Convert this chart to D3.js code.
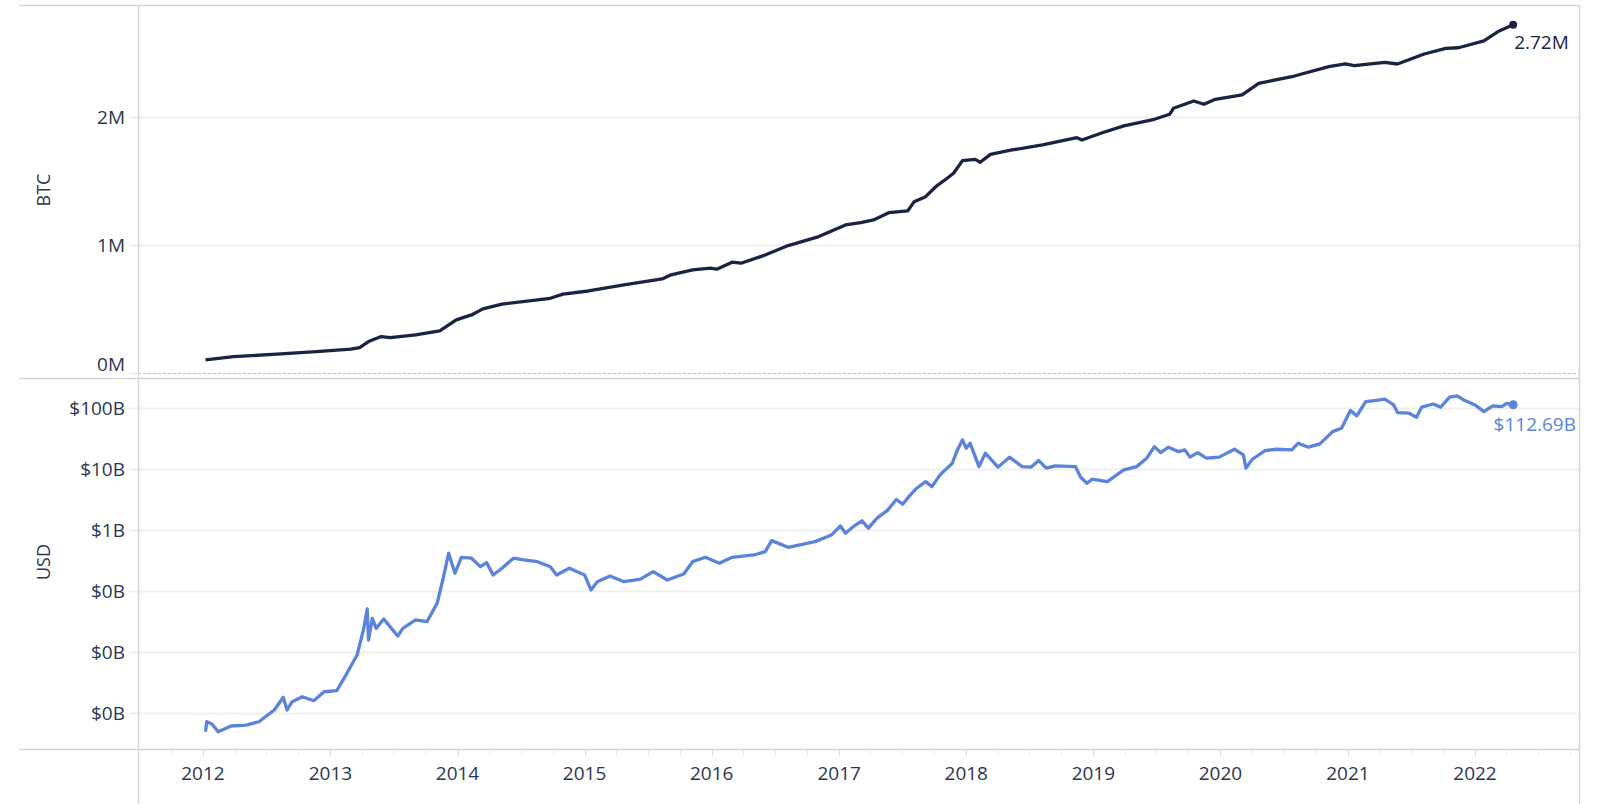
<!DOCTYPE html>
<html><head><meta charset="utf-8">
<script src="https://cdn.jsdelivr.net/npm/d3@7"></script>
<style>
html,body{margin:0;padding:0;background:#fff;}
svg{display:block;font-family:"Open Sans",sans-serif;}
</style></head>
<body>
<svg id="chart" width="1600" height="804"></svg>
<script>
// ---- data (decimal years) ----
const btcYears = [2012.02,2012.24,2012.58,2012.89,2013.16,2013.23,2013.30,2013.40,2013.47,2013.67,2013.86,2013.99,2014.11,2014.20,2014.35,2014.73,2014.83,2015.03,2015.31,2015.61,2015.68,2015.85,2015.99,2016.04,2016.16,2016.23,2016.40,2016.60,2016.84,2017.05,2017.17,2017.27,2017.39,2017.54,2017.59,2017.68,2017.76,2017.85,2017.90,2017.97,2018.07,2018.11,2018.19,2018.36,2018.60,2018.87,2018.91,2019.07,2019.24,2019.48,2019.60,2019.63,2019.79,2019.87,2019.96,2020.17,2020.30,2020.58,2020.85,2020.98,2021.05,2021.29,2021.39,2021.60,2021.77,2021.87,2022.07,2022.19,2022.30];
const btcMillions = [0.102,0.127,0.146,0.166,0.185,0.198,0.245,0.284,0.276,0.297,0.328,0.414,0.453,0.500,0.537,0.583,0.615,0.640,0.688,0.734,0.766,0.805,0.818,0.810,0.865,0.857,0.914,0.995,1.065,1.156,1.174,1.195,1.252,1.266,1.338,1.377,1.455,1.521,1.560,1.659,1.669,1.646,1.708,1.742,1.781,1.838,1.820,1.877,1.930,1.982,2.021,2.068,2.125,2.099,2.138,2.172,2.263,2.320,2.393,2.414,2.401,2.427,2.414,2.492,2.536,2.541,2.594,2.672,2.720];

const usdYears = [2012.02,2012.03,2012.07,2012.12,2012.22,2012.34,2012.44,2012.49,2012.56,2012.63,2012.66,2012.70,2012.78,2012.87,2012.95,2013.05,2013.13,2013.21,2013.26,2013.29,2013.30,2013.33,2013.36,2013.42,2013.48,2013.53,2013.57,2013.67,2013.76,2013.84,2013.89,2013.93,2013.98,2014.03,2014.11,2014.18,2014.23,2014.28,2014.35,2014.44,2014.52,2014.63,2014.73,2014.78,2014.88,2015.00,2015.05,2015.10,2015.20,2015.31,2015.44,2015.54,2015.65,2015.78,2015.85,2015.95,2016.06,2016.16,2016.33,2016.42,2016.47,2016.60,2016.81,2016.94,2017.01,2017.05,2017.11,2017.18,2017.23,2017.30,2017.38,2017.45,2017.50,2017.55,2017.61,2017.68,2017.73,2017.80,2017.85,2017.89,2017.93,2017.97,2018.00,2018.03,2018.10,2018.15,2018.25,2018.34,2018.44,2018.51,2018.57,2018.63,2018.70,2018.86,2018.90,2018.95,2018.99,2019.11,2019.24,2019.34,2019.42,2019.48,2019.53,2019.59,2019.67,2019.72,2019.76,2019.82,2019.89,2019.99,2020.11,2020.18,2020.20,2020.25,2020.35,2020.44,2020.56,2020.61,2020.69,2020.78,2020.88,2020.95,2021.02,2021.07,2021.14,2021.21,2021.29,2021.36,2021.39,2021.48,2021.54,2021.58,2021.67,2021.73,2021.80,2021.86,2021.92,2022.00,2022.07,2022.14,2022.21,2022.25,2022.30];
const usdBillions = [0.000493,0.000719,0.000661,0.000493,0.000612,0.000635,0.000719,0.000869,0.00112,0.00181,0.00112,0.00153,0.00185,0.00159,0.00223,0.00232,0.00447,0.00893,0.0230,0.0507,0.0157,0.0356,0.0244,0.0348,0.0244,0.0183,0.0244,0.0335,0.0314,0.0628,0.171,0.415,0.195,0.356,0.344,0.250,0.291,0.183,0.236,0.344,0.322,0.302,0.250,0.183,0.236,0.183,0.104,0.142,0.176,0.142,0.156,0.207,0.151,0.190,0.302,0.356,0.284,0.356,0.389,0.441,0.668,0.520,0.643,0.828,1.16,0.883,1.13,1.41,1.07,1.58,2.09,3.16,2.63,3.55,4.83,6.19,5.13,8.28,10.3,12.4,20.5,29.9,21.8,26.4,10.9,18.1,10.7,15.6,10.9,10.7,13.7,10.3,11.2,10.9,7.31,5.83,6.78,6.19,9.64,10.9,15.0,23.2,18.5,22.7,19.2,20.5,15.6,18.5,15.0,15.6,21.0,17.0,10.3,14.4,20.0,21.0,20.5,26.4,22.7,25.7,40.9,46.5,90.4,74.0,127,132,139,112,83.8,81.8,70.3,103,116,103,150,157,132,112,86.9,108,105,119,112.69];

const xTickYears = [2012,2013,2014,2015,2016,2017,2018,2019,2020,2021,2022];
const btcTicks = [0,1,2];
const btcTickLabels = ["0M","1M","2M"];
const usdTicks = [0.001,0.01,0.1,1,10,100];
const usdTickLabels = ["$0B","$0B","$0B","$1B","$10B","$100B"];
const btcEndLabel = "2.72M";
const usdEndLabel = "$112.69B";
const btcTitle = "BTC", usdTitle = "USD";

// ---- helpers ----
function yearToDate(v){const y=Math.floor(v),f=v-y;const a=Date.UTC(y,0,1),b=Date.UTC(y+1,0,1);return new Date(a+f*(b-a));}

const svg = d3.select("#chart");
const L=138, R=1579, topT=5, topB=378, botT=378, botB=749;
const navy="#1b2342", blue="#5b83dc", grid="#efefef", frame="#d6d6d6", txt="#2d3552";

const x = d3.scaleUtc().domain([yearToDate(2011.489), yearToDate(2022.826)]).range([L, 1580]);
const yTop = d3.scaleLinear().domain([-0.04, 2.875]).range([topB, topT]);
const yBot = d3.scaleLog().domain([Math.pow(10,-3.59), Math.pow(10,2.49)]).range([botB, botT]);

// gridlines + tick marks
const g = svg.append("g");
btcTicks.forEach((t,i)=>{
  const yy = Math.round(yTop(t))+0.5;
  if(t!==0) g.append("line").attr("x1",L).attr("x2",R).attr("y1",yy).attr("y2",yy).attr("stroke",grid).attr("stroke-width",2);
  g.append("line").attr("x1",129).attr("x2",L).attr("y1",yy).attr("y2",yy).attr("stroke",grid).attr("stroke-width",2);
  g.append("text").attr("x",125).attr("y",t===0?yy-9:yy).attr("dy","0.35em").attr("text-anchor","end")
   .attr("font-size",19).attr("fill",txt).text(btcTickLabels[i]);
});
// zero dashed line
g.append("line").attr("x1",L).attr("x2",R).attr("y1",Math.round(yTop(0))+0.5).attr("y2",Math.round(yTop(0))+0.5)
 .attr("stroke","#bdbdbd").attr("stroke-width",1.2).attr("stroke-dasharray","3,2");

usdTicks.forEach((t,i)=>{
  const yy = Math.round(yBot(t))+0.5;
  g.append("line").attr("x1",129).attr("x2",R).attr("y1",yy).attr("y2",yy).attr("stroke",grid).attr("stroke-width",2);
  g.append("text").attr("x",125).attr("y",yy).attr("dy","0.35em").attr("text-anchor","end")
   .attr("font-size",19).attr("fill",txt).text(usdTickLabels[i]);
});

// frame lines
const fr = svg.append("g").attr("stroke",frame).attr("stroke-width",1.5);
fr.append("line").attr("x1",19).attr("x2",1580).attr("y1",5.5).attr("y2",5.5);
fr.append("line").attr("x1",19).attr("x2",1580).attr("y1",378.5).attr("y2",378.5);
fr.append("line").attr("x1",19).attr("x2",1580).attr("y1",749.5).attr("y2",749.5);
fr.append("line").attr("x1",L+0.5).attr("x2",L+0.5).attr("y1",5).attr("y2",804);
fr.append("line").attr("x1",1579.5).attr("x2",1579.5).attr("y1",5).attr("y2",804);

// x axis ticks (quarterly) and labels
const qTicks = d3.utcMonth.every(3).range(yearToDate(2011.5), yearToDate(2022.83));
svg.append("g").selectAll("line").data(qTicks).join("line")
  .attr("x1",d=>Math.round(x(d))+0.5).attr("x2",d=>Math.round(x(d))+0.5)
  .attr("y1",750).attr("y2",d=>d.getUTCMonth()===0?756:755)
  .attr("stroke",d=>d.getUTCMonth()===0?"#d9d9d9":"#e8e8e8").attr("stroke-width",1);
svg.append("g").selectAll("text").data(xTickYears).join("text")
  .attr("x",d=>x(yearToDate(d))).attr("y",773).attr("dy","0.35em").attr("text-anchor","middle")
  .attr("font-size",19).attr("fill",txt).text(d=>d);

// axis titles
svg.append("text").attr("transform","translate(44,190) rotate(-90)").attr("text-anchor","middle").attr("dy","0.35em")
  .attr("font-size",18).attr("fill",txt).text(btcTitle);
svg.append("text").attr("transform","translate(44,562) rotate(-90)").attr("text-anchor","middle").attr("dy","0.35em")
  .attr("font-size",18).attr("fill",txt).text(usdTitle);

// lines
const btcData = btcYears.map((v,i)=>({d:yearToDate(v),v:btcMillions[i]}));
const usdData = usdYears.map((v,i)=>({d:yearToDate(v),v:usdBillions[i]}));
svg.append("path").datum(btcData).attr("fill","none").attr("stroke",navy).attr("stroke-width",3.3).attr("stroke-linejoin","round")
  .attr("d",d3.line().x(d=>x(d.d)).y(d=>yTop(d.v)));
svg.append("path").datum(usdData).attr("fill","none").attr("stroke",blue).attr("stroke-width",3.3).attr("stroke-linejoin","round")
  .attr("d",d3.line().x(d=>x(d.d)).y(d=>yBot(d.v)));

// end dots + labels
const bl = btcData[btcData.length-1], ul = usdData[usdData.length-1];
svg.append("circle").attr("cx",x(bl.d)).attr("cy",yTop(bl.v)).attr("r",4).attr("fill",navy);
svg.append("circle").attr("cx",x(ul.d)).attr("cy",yBot(ul.v)).attr("r",4.5).attr("fill",blue);
svg.append("text").attr("x",x(bl.d)+1).attr("y",yTop(bl.v)+18).attr("dy","0.35em").attr("font-size",19).attr("fill",navy).text(btcEndLabel);
svg.append("text").attr("x",1576).attr("y",yBot(ul.v)+20).attr("dy","0.35em").attr("text-anchor","end").attr("font-size",19).attr("fill",blue).text(usdEndLabel);
</script>
</body></html>
